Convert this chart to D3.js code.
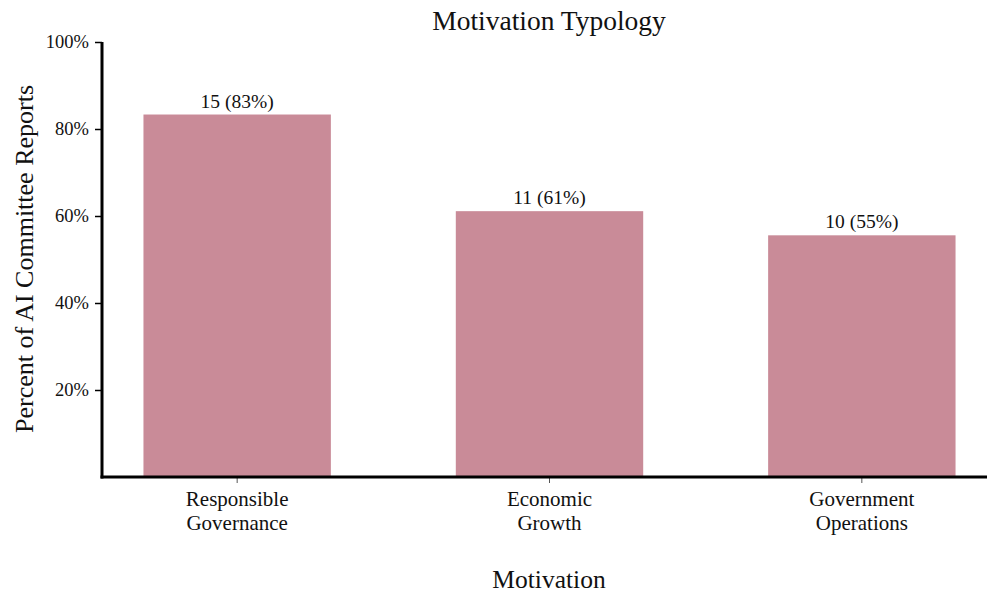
<!DOCTYPE html>
<html><head><meta charset="utf-8">
<script src="https://cdn.jsdelivr.net/npm/d3@7/dist/d3.min.js"></script>
<style>body{margin:0;background:#fff;} svg{display:block;} text{font-family:"Liberation Serif","DejaVu Serif",serif;fill:#111;}</style>
</head><body>
<svg id="c" width="987" height="594"></svg>
<script>
const categories = [["Responsible","Governance"],["Economic","Growth"],["Government","Operations"]];
const counts = [15, 11, 10];
const total = 18;
const percents = [83.33, 61.11, 55.56];
const yTicks = [20, 40, 60, 80, 100];
const title = "Motivation Typology";
const xLabel = "Motivation";
const yLabel = "Percent of AI Committee Reports";

const svg = d3.select("#c");
const x = d3.scaleBand().domain(d3.range(categories.length)).range([81, 1018]).paddingInner(0.4).paddingOuter(0.2);
const y = d3.scaleLinear().domain([0, 100]).range([477, 42]);
const color = "#c98b98";

svg.selectAll("rect.bar").data(percents).enter().append("rect")
  .attr("x", (d,i)=>x(i)).attr("width", x.bandwidth())
  .attr("y", d=>y(d)).attr("height", d=>y(0)-y(d)).attr("fill", color);

svg.selectAll("text.val").data(percents).enter().append("text")
  .attr("x",(d,i)=>x(i)+x.bandwidth()/2).attr("y", d=>y(d)-7)
  .attr("text-anchor","middle").style("font-size","19.5px")
  .text((d,i)=>`${counts[i]} (${Math.floor(d)}%)`);

// y axis
const yg = svg.append("g").attr("transform","translate(102,0)")
  .call(d3.axisLeft(y).tickValues(yTicks).tickSize(7).tickPadding(6).tickFormat(d=>d+"%"));
yg.select(".domain").remove();
yg.selectAll("line").attr("stroke","#000").attr("stroke-width",1.5);
yg.selectAll("text").style("font-size","18.5px").style("font-family","'Liberation Serif',serif").attr("fill","#111");
svg.append("line").attr("x1",102).attr("x2",102).attr("y1",y(100)).attr("y2",y(0)+1.5).attr("stroke","#000").attr("stroke-width",3);

// x axis
const xg = svg.append("g").attr("transform","translate(0,477)")
  .call(d3.axisBottom(x).tickSize(6).tickFormat(""));
xg.select(".domain").remove();
xg.selectAll("line").attr("stroke","#555").attr("stroke-width",1);
svg.append("line").attr("x1",100.5).attr("x2",987).attr("y1",477).attr("y2",477).attr("stroke","#000").attr("stroke-width",3);

svg.selectAll("text.xl").data(categories).enter().append("text")
  .attr("x",(d,i)=>x(i)+x.bandwidth()/2).attr("y",506)
  .attr("text-anchor","middle").style("font-size","21px")
  .each(function(d){ const t=d3.select(this); d.forEach((s,k)=>t.append("tspan").attr("x",t.attr("x")).attr("dy",k?"1.12em":0).text(s)); });

svg.append("text").attr("x",549).attr("y",30).attr("text-anchor","middle").style("font-size","27.5px").text(title);
svg.append("text").attr("x",549).attr("y",588).attr("text-anchor","middle").style("font-size","25.5px").text(xLabel);
svg.append("text").attr("transform","translate(33,259) rotate(-90)").attr("text-anchor","middle").style("font-size","26px").text(yLabel);
</script>
</body></html>
